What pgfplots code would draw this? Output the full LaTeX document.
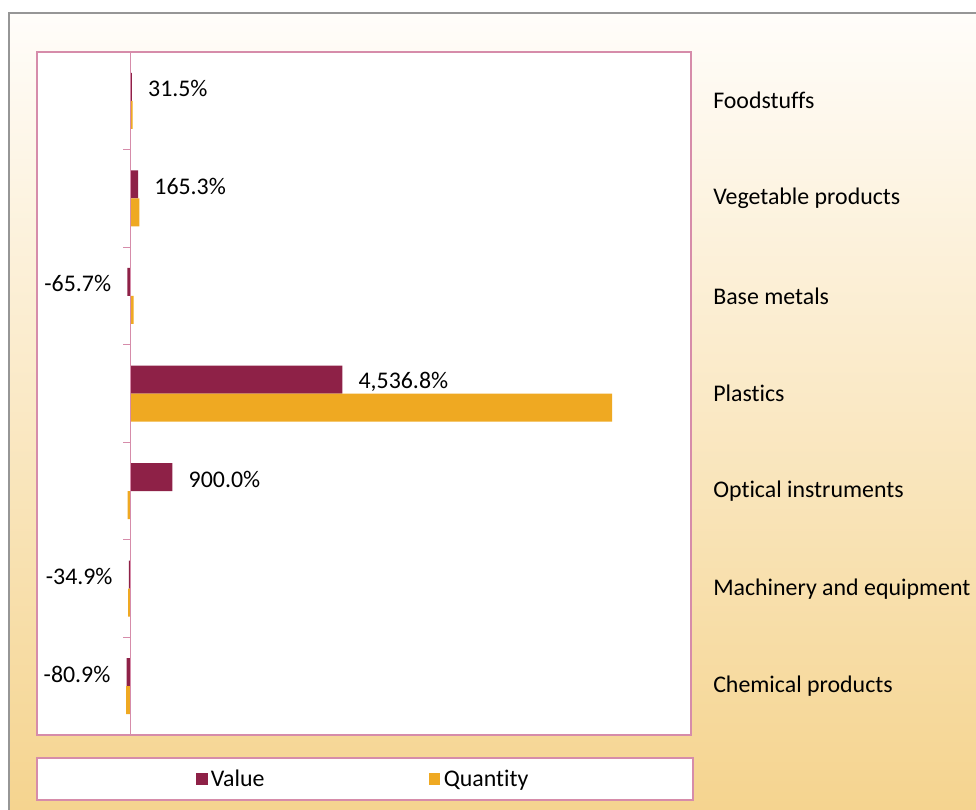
\documentclass[border=0pt]{standalone}
\usepackage{pgfplots}
\pgfplotsset{compat=1.18}
\usepackage{pgfplotstable}
\usepackage{fontspec}
\setmainfont{Carlito}[RawFeature={-liga;-clig;-calt;-dlig}]
\definecolor{valuecol}{RGB}{142,33,71}
\definecolor{qtycol}{RGB}{239,169,34}
\definecolor{bgtop}{RGB}{255,253,250}
\definecolor{bgbot}{RGB}{245,212,143}
\definecolor{pinkline}{RGB}{214,140,170}
\definecolor{framegray}{RGB}{150,150,150}
\newcommand{\cf}{\fontsize{17.9pt}{21pt}\selectfont}

\pgfplotstableread[col sep=comma]{
idx,value,quantity
0,31.5,45
1,165.3,190
2,-65.7,70
3,4536.8,10310
4,900.0,-60
5,-34.9,-50
6,-80.9,-90
}\datatable

\begin{document}
\begin{tikzpicture}
\useasboundingbox (0,0) rectangle (732pt,-607.5pt);
\fill[white] (0,0) rectangle (732pt,-607.5pt);
\shade[top color=bgtop, bottom color=bgbot] (6.75pt,-9.75pt) rectangle (732pt,-607.5pt);
\draw[framegray, line width=1pt] (6.75pt,-607.5pt) -- (6.75pt,-9.75pt) -- (732pt,-9.75pt);
% legend box
\draw[pinkline, line width=0.8pt, fill=white] (27.75pt,-568.5pt) rectangle (519.75pt,-600pt);
\begin{axis}[
  at={(27.75pt,-551.25pt)}, anchor=south west,
  scale only axis, width=490.5pt, height=512.25pt,
  xbar=0pt, bar width=21pt,
  xmin=-2000, xmax=12000, ymin=-0.5, ymax=6.5,
  y dir=reverse,
  axis background/.style={fill=white},
  axis line style={pinkline, line width=0.8pt},
  xtick=\empty,
  ytick={0,1,2,3,4,5,6},
  yticklabels={Foodstuffs,Vegetable products,Base metals,Plastics,Optical instruments,Machinery and equipment,Chemical products},
  yticklabel pos=right,
  major tick length=0pt,
  yticklabel style={anchor=west, inner sep=0pt, xshift=16.5pt, font=\cf, text=black},
  legend columns=2,
  legend style={at={(0.5,-0.0644)}, anchor=center, draw=none, fill=none, font=\cf,
    /tikz/every even column/.append style={column sep=121pt},
    nodes={inner xsep=2.5pt}},
  legend image code/.code={\fill[#1] (0pt,-4.5pt) rectangle (8.5pt,4.5pt);},
]
\addplot[fill=valuecol, draw=none, bar shift=10.5pt,
  nodes near coords={\pgfmathprintnumber[fixed, fixed zerofill, precision=1, 1000 sep={,}, assume math mode=true]{\pgfplotspointmeta}\%},
  nodes near coords align=horizontal,
  every node near coord/.append style={font=\cf, text=black, inner xsep=12pt, yshift=-1.5pt},
] table[x=value, y=idx] {\datatable};
\addlegendentry{Value}
\addplot[fill=qtycol, draw=none, bar shift=-10.5pt] table[x=quantity, y=idx] {\datatable};
\addlegendentry{Quantity}
\draw[pinkline, line width=0.8pt] (axis cs:0,-0.5) -- (axis cs:0,6.5);
\pgfplotsinvokeforeach{-0.5,0.5,1.5,2.5,3.5,4.5,5.5,6.5}{
  \draw[pinkline, line width=0.8pt] (axis cs:0,#1) -- ++(-5.25pt,0pt);
}
\end{axis}
\end{tikzpicture}
\end{document}
